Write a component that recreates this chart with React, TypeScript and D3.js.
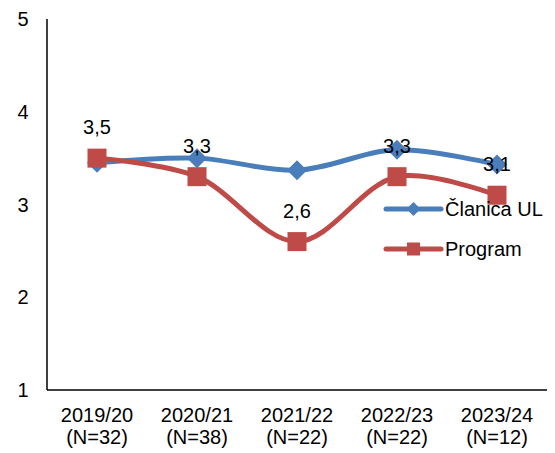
import React from "react";
import * as d3 from "d3";

const categories = ["2019/20", "2020/21", "2021/22", "2022/23", "2023/24"];
const nLabels = ["(N=32)", "(N=38)", "(N=22)", "(N=22)", "(N=12)"];
const clanicaValues = [3.45, 3.5, 3.37, 3.59, 3.43];
const programValues = [3.5, 3.3, 2.6, 3.3, 3.1];
const programLabels = ["3,5", "3,3", "2,6", "3,3", "3,1"];
const yTicks = [1, 2, 3, 4, 5];
const seriesNames = ["Članica UL", "Program"];

const W = 555;
const H = 453;
const left = 47;
const right = 547;
const top = 19;
const bottom = 390;
const BLUE = "#4A7EBB";
const RED = "#BE4B48";
const FONT = "'Liberation Sans', Arial, sans-serif";
const FS = 20;

export default function App() {
  const x = d3.scaleBand().domain(categories).range([left, right]);
  const y = d3.scaleLinear().domain([1, 5]).range([bottom, top]);
  const cx = (c: string) => (x(c) as number) + x.bandwidth() / 2;

  const line = d3
    .line<number>()
    .x((_, i) => cx(categories[i]))
    .y((d) => y(d))
    .curve(d3.curveCatmullRom.alpha(0.5));

  const diamond = (px: number, py: number, r: number) =>
    `M${px},${py - r}L${px + r},${py}L${px},${py + r}L${px - r},${py}Z`;

  const legendX1 = 386;
  const legendX2 = 441;
  const legendY = [209, 249];

  return (
    <svg
      width={W}
      height={H}
      style={{ position: "absolute", left: 0, top: 0, background: "#fff" }}
      fontFamily={FONT}
    >
      <rect width={W} height={H} fill="#fff" />
      {/* axes */}
      <line x1={left} x2={left} y1={top} y2={bottom} stroke="#000" strokeWidth={1.5} />
      <line x1={left} x2={right} y1={bottom} y2={bottom} stroke="#000" strokeWidth={1.5} />
      {yTicks.map((t) => (
        <text key={t} x={28.5} y={y(t)} textAnchor="end" dominantBaseline="central" fontSize={FS}>
          {t}
        </text>
      ))}
      {categories.map((c, i) => (
        <g key={c}>
          <text x={cx(c)} y={415} textAnchor="middle" dominantBaseline="central" fontSize={FS}>
            {c}
          </text>
          <text x={cx(c)} y={437} textAnchor="middle" dominantBaseline="central" fontSize={FS}>
            {nLabels[i]}
          </text>
        </g>
      ))}
      {/* series */}
      <path d={line(clanicaValues) || ""} fill="none" stroke={BLUE} strokeWidth={5} />
      {clanicaValues.map((v, i) => (
        <path key={"b" + i} d={diamond(cx(categories[i]), y(v), 10)} fill={BLUE} />
      ))}
      <path d={line(programValues) || ""} fill="none" stroke={RED} strokeWidth={5} />
      {programValues.map((v, i) => (
        <rect
          key={"r" + i}
          x={cx(categories[i]) - 9.5}
          y={y(v) - 9.5}
          width={19}
          height={19}
          fill={RED}
        />
      ))}
      {programValues.map((v, i) => (
        <text
          key={"l" + i}
          x={cx(categories[i])}
          y={y(v) - 31}
          textAnchor="middle"
          dominantBaseline="central"
          fontSize={FS}
        >
          {programLabels[i]}
        </text>
      ))}
      {/* legend */}
      <line x1={legendX1} x2={legendX2} y1={legendY[0]} y2={legendY[0]} stroke={BLUE} strokeWidth={5} strokeLinecap="round" />
      <path d={diamond((legendX1 + legendX2) / 2, legendY[0], 7)} fill={BLUE} />
      <text x={445} y={legendY[0]} dominantBaseline="central" fontSize={FS}>
        {seriesNames[0]}
      </text>
      <line x1={legendX1} x2={legendX2} y1={legendY[1]} y2={legendY[1]} stroke={RED} strokeWidth={5} strokeLinecap="round" />
      <rect x={(legendX1 + legendX2) / 2 - 6.5} y={legendY[1] - 6.5} width={13} height={13} fill={RED} />
      <text x={445} y={legendY[1]} dominantBaseline="central" fontSize={FS}>
        {seriesNames[1]}
      </text>
    </svg>
  );
}
